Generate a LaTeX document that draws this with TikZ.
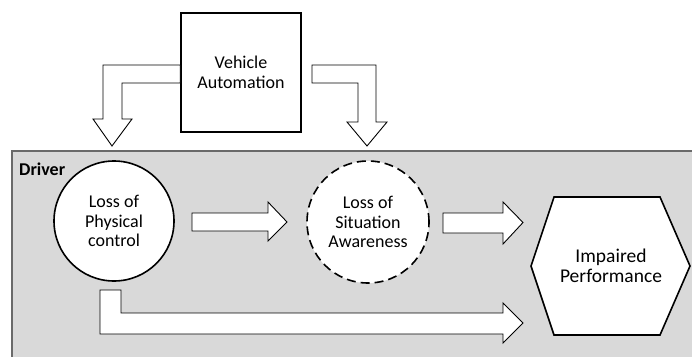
\documentclass[tikz,border=0pt]{standalone}
\usepackage{fontspec}
\setmainfont{Carlito}
\definecolor{panelgray}{HTML}{D9D9D9}
\definecolor{paneledge}{HTML}{6A6A6A}
\begin{document}
\begin{tikzpicture}[x=1pt,y=-1pt,
  blockarrow/.style={draw=black, fill=white, line width=0.9pt, line join=miter},
  txt/.style={font=\fontsize{18}{19.5}\selectfont, align=center},
  bigtxt/.style={font=\fontsize{19.5}{20.5}\selectfont, align=center},
  shapeline/.style={draw=black, line width=1.6pt}]
\useasboundingbox (0,0) rectangle (692,356);
\clip (0,0) rectangle (692,356);
% driver panel
\draw[fill=panelgray, draw=paneledge, line width=1.6pt] (12,151) rectangle (720,380);
\node[anchor=west, font=\fontsize{18}{19}\selectfont\bfseries, inner sep=0] (drv) at (19,169.5) {Driver};
% vehicle automation
\node[shapeline, fill=white, minimum width=120pt, minimum height=119pt, inner sep=0, txt] (va) at (241,72.5) {Vehicle\\Automation};
% bent arrows from automation
\draw[blockarrow] (va.west |- 0,65) -- (103,65) -- (103,119) -- (93,119) -- (112,146) -- (132,119) -- (122,119) -- (122,83) -- (va.west |- 0,83) -- cycle;
\draw[blockarrow] (312,65) -- (376,65) -- (376,122) -- (387,122) -- (367,146) -- (347,122) -- (358,122) -- (358,83) -- (312,83) -- cycle;
% circles
\node[circle, shapeline, fill=white, minimum size=120pt, inner sep=0, txt] (lpc) at (114,221) {Loss of\\Physical\\control};
\node[circle, shapeline, dash pattern=on 9pt off 5pt, fill=white, minimum size=122pt, inner sep=0, txt] (lsa) at (368,222) {Loss of\\Situation\\Awareness};
% hexagon
\coordinate (hexc) at (611,266);
\draw[shapeline, fill=white, line join=miter] (531,266) -- (554,197) -- (660,197) -- (690,266) -- (660,335) -- (554,335) -- cycle;
\node[bigtxt] (ip) at (hexc) {Impaired\\Performance};
% straight arrows
\draw[blockarrow] (192,213) -- (268,213) -- (268,202) -- (287,222) -- (268,241) -- (268,231) -- (192,231) -- cycle;
\draw[blockarrow] (443,213) -- (503,213) -- (503,202) -- (523,222.5) -- (503,244) -- (503,233) -- (443,233) -- cycle;
% bottom L arrow
\draw[blockarrow] (100,290) -- (121,290) -- (121,313) -- (503,313) -- (503,303) -- (523,323) -- (503,343) -- (503,334) -- (100,334) -- cycle;
\end{tikzpicture}
\end{document}
